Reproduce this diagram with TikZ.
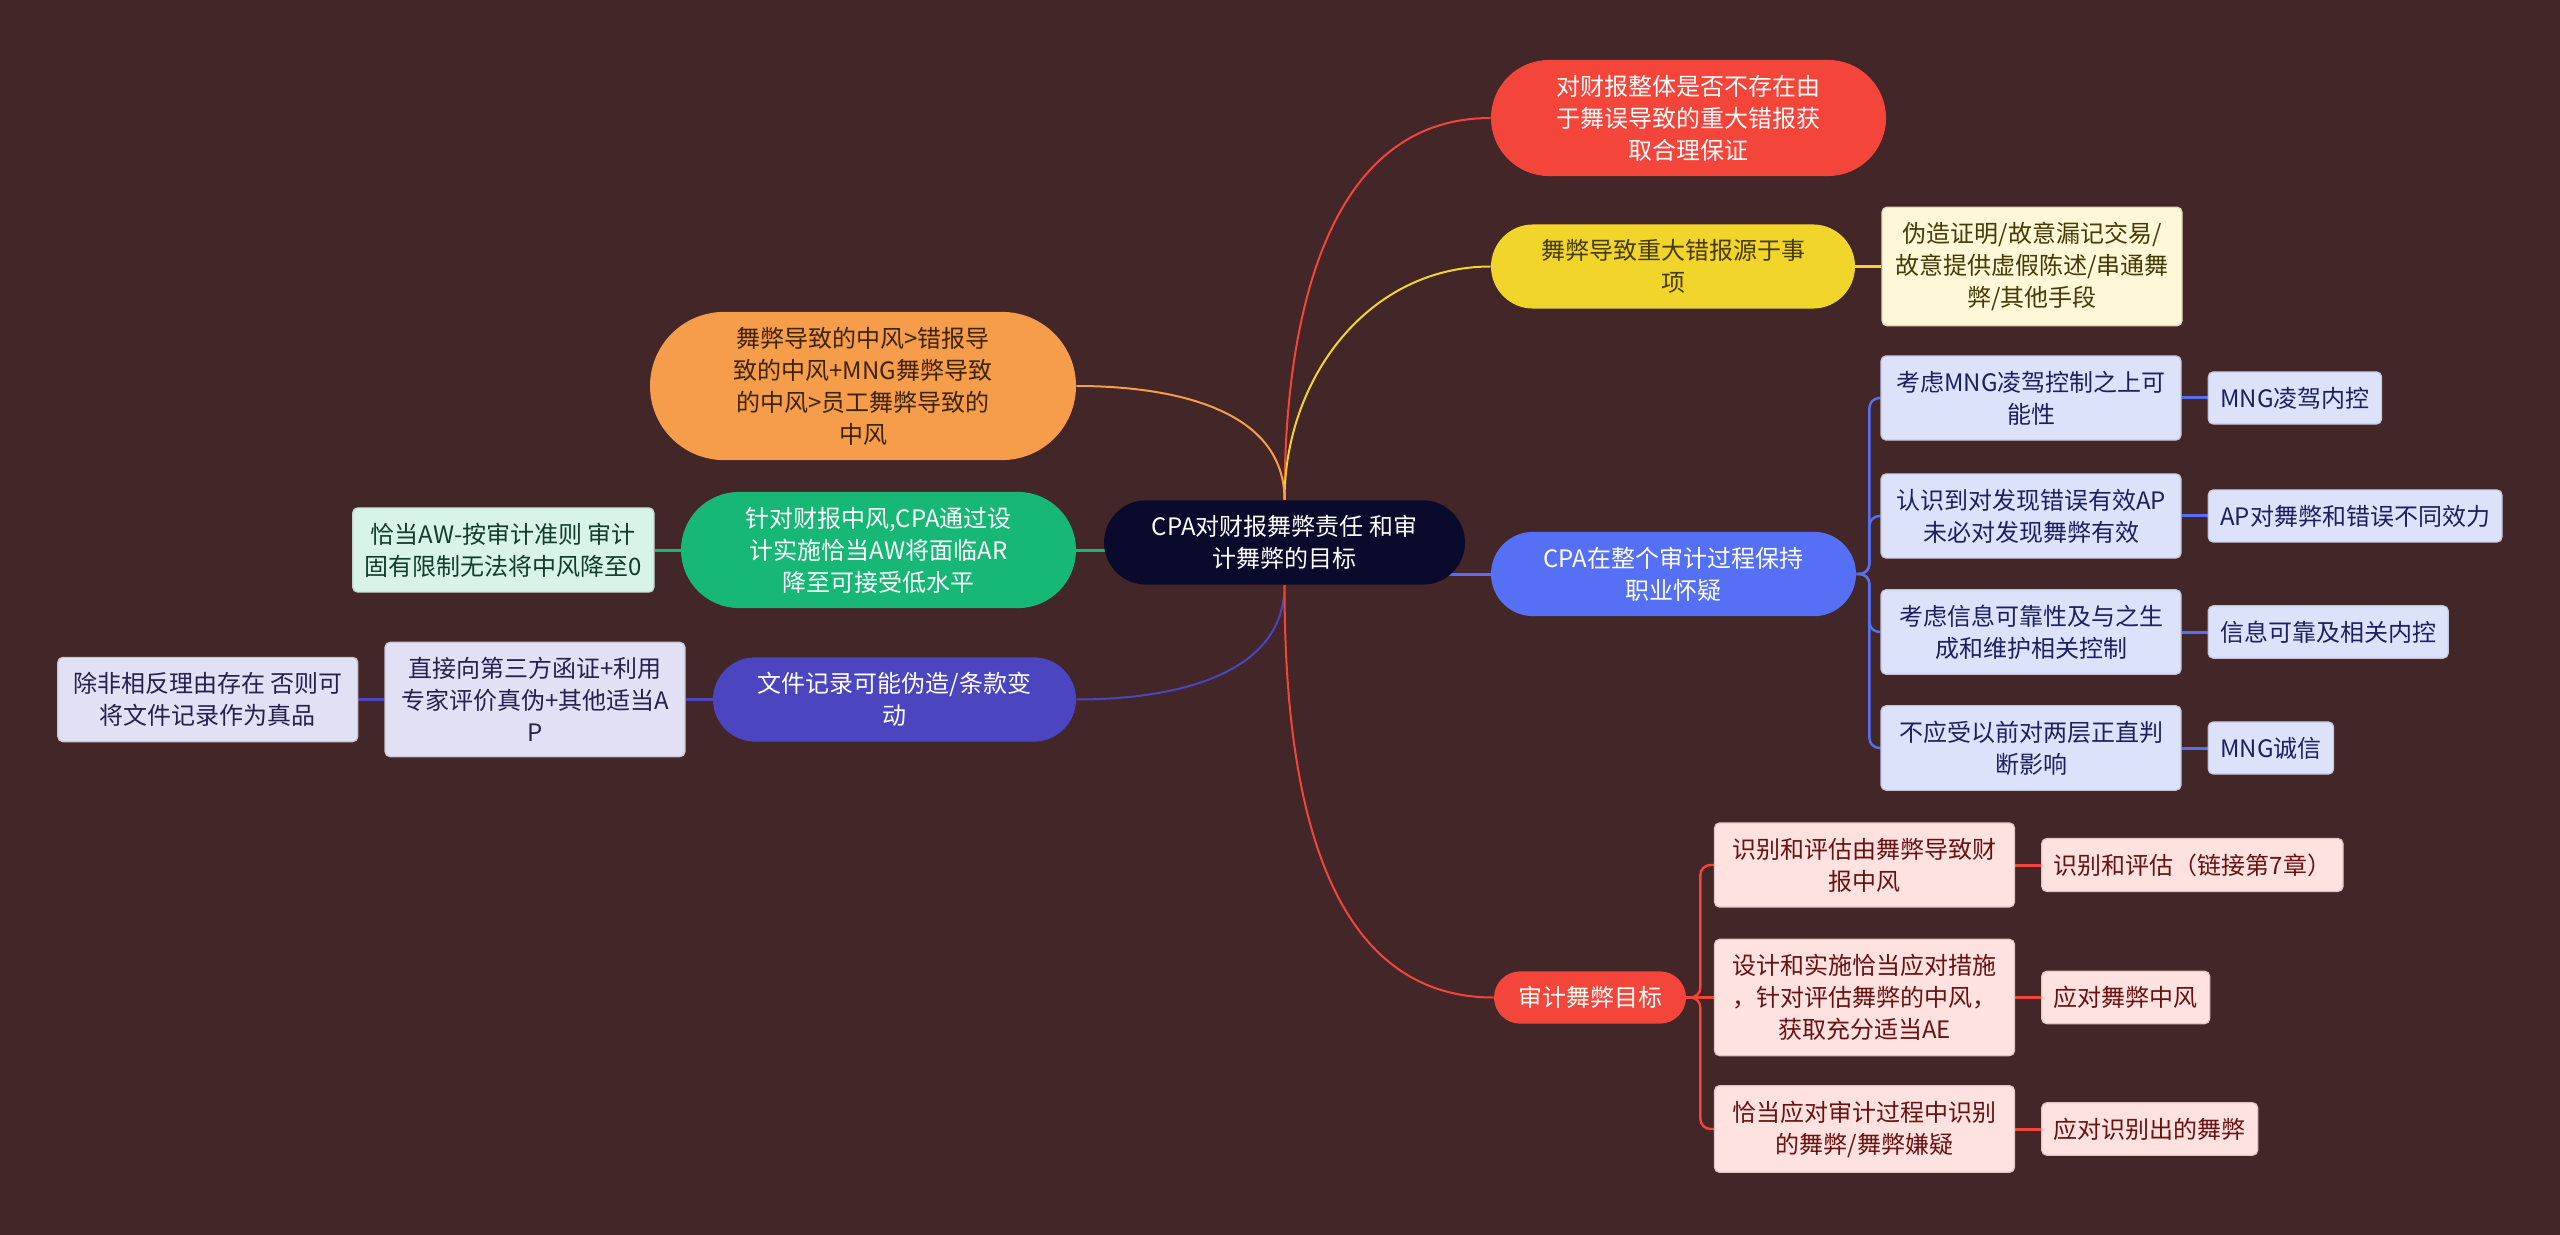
\documentclass[tikz,border=0pt]{standalone}
\usepackage{fontspec}
\setmainfont{Noto Sans CJK SC}
\usetikzlibrary{shapes.misc,positioning}
\pgfdeclarelayer{back}
\pgfdeclarelayer{lines}
\pgfsetlayers{back,lines,main}
\definecolor{bgc}{HTML}{432628}
\definecolor{rootc}{HTML}{0A0A2C}
\definecolor{redc}{HTML}{F4453A}
\definecolor{redleaf}{HTML}{FDE2E0}
\definecolor{redtext}{HTML}{6A1212}
\definecolor{yelc}{HTML}{F2D52B}
\definecolor{yelleaf}{HTML}{FFF8D8}
\definecolor{yeltext}{HTML}{463A05}
\definecolor{bluec}{HTML}{5570F4}
\definecolor{blueleaf}{HTML}{DDE2FB}
\definecolor{bluetext}{HTML}{1B2160}
\definecolor{orac}{HTML}{F59D4A}
\definecolor{oratext}{HTML}{3E2408}
\definecolor{grnc}{HTML}{17B775}
\definecolor{grnleaf}{HTML}{D8F4E6}
\definecolor{grntext}{HTML}{123D2A}
\definecolor{purc}{HTML}{4B45BF}
\definecolor{purleaf}{HTML}{E2E0F4}
\definecolor{purtext}{HTML}{25214F}
\tikzset{
  txt/.style={font=\fontsize{12pt}{16pt}\selectfont, align=center},
  pill/.style={txt, rounded rectangle, inner xsep=0pt, inner ysep=7.5pt},
  leaf/.style={txt, rectangle, rounded corners=2.5pt, inner xsep=6pt, inner ysep=7.5pt, line width=0.6pt},
  wide/.style={minimum width=150pt},
  redleafbox/.style={leaf, fill=redleaf, draw=redleaf!88!black, text=redtext},
  blueleafbox/.style={leaf, fill=blueleaf, draw=blueleaf!88!black, text=bluetext},
  purleafbox/.style={leaf, fill=purleaf, draw=purleaf!88!black, text=purtext},
  curve/.style={line width=1pt},
  link/.style={line width=1.5pt},
  fork/.style={line width=1.2pt, rounded corners=5pt},
}

\begin{document}
\begin{tikzpicture}[x=0.5pt,y=-0.5pt]
\useasboundingbox (0,0) rectangle (2560,1235);
\begin{pgfonlayer}{back}
\fill[bgc] (0,0) rectangle (2560,1235);
\end{pgfonlayer}

\node[pill, fill=rootc, text=white, minimum width=180.5pt] (root) at (1284.5,542.5) {CPA对财报舞弊责任 和审\\计舞弊的目标};

\node[pill, fill=redc, text=white, minimum width=197.5pt] (whole) at (1688.5,118) {对财报整体是否不存在由\\于舞误导致的重大错报获\\取合理保证};
\node[pill, fill=yelc, text=yeltext, minimum width=182pt] (source) at (1673,266.5) {舞弊导致重大错报源于事\\项};
\node[leaf, wide, fill=yelleaf, draw=yelleaf!88!black, text=yeltext, right=13pt of source] (means) {伪造证明/故意漏记交易/\\故意提供虚假陈述/串通舞\\弊/其他手段};

\node[pill, fill=bluec, text=white, minimum width=182.5pt] (doubt) at (1673.5,574) {CPA在整个审计过程保持\\职业怀疑};
\node[blueleafbox, wide] (k1) at (2031,398) {考虑MNG凌驾控制之上可\\能性};
\node[blueleafbox, wide] (k2) at (2031,516) {认识到对发现错误有效AP\\未必对发现舞弊有效};
\node[blueleafbox, wide] (k3) at (2031,632) {考虑信息可靠性及与之生\\成和维护相关控制};
\node[blueleafbox, wide] (k4) at (2031,748) {不应受以前对两层正直判\\断影响};
\node[blueleafbox, right=13pt of k1] (g1) {MNG凌驾内控};
\node[blueleafbox, right=13pt of k2] (g2) {AP对舞弊和错误不同效力};
\node[blueleafbox, right=13pt of k3] (g3) {信息可靠及相关内控};
\node[blueleafbox, right=13pt of k4] (g4) {MNG诚信};

\node[pill, fill=redc, text=white, minimum width=96pt] (goal) at (1590,997.5) {审计舞弊目标};
\node[redleafbox, wide] (t1) at (1864.5,865) {识别和评估由舞弊导致财\\报中风};
\node[redleafbox, wide] (t2) at (1864.5,997.5) {设计和实施恰当应对措施\\，针对评估舞弊的中风，\\获取充分适当AE};
\node[redleafbox, wide] (t3) at (1864.5,1129) {恰当应对审计过程中识别\\的舞弊/舞弊嫌疑};
\node[redleafbox, right=13pt of t1] (h1) {识别和评估（链接第7章）};
\node[redleafbox, right=13pt of t2] (h2) {应对舞弊中风};
\node[redleafbox, right=13pt of t3] (h3) {应对识别出的舞弊};

\node[pill, fill=orac, text=oratext, minimum width=213pt] (ratio) at (863,386) {舞弊导致的中风>错报导\\致的中风+MNG舞弊导致\\的中风>员工舞弊导致的\\中风};
\node[pill, fill=grnc, text=white, minimum width=197.5pt] (respond) at (878.5,550) {针对财报中风,CPA通过设\\计实施恰当AW将面临AR\\降至可接受低水平};
\node[leaf, wide, fill=grnleaf, draw=grnleaf!88!black, text=grntext, left=13pt of respond] (limit) {恰当AW-按审计准则 审计\\固有限制无法将中风降至0};
\node[pill, fill=purc, text=white, minimum width=181.5pt] (forge) at (894.5,699.5) {文件记录可能伪造/条款变\\动};
\node[purleafbox, wide, left=13.5pt of forge] (confirm) {直接向第三方函证+利用\\专家评价真伪+其他适当A\\P};
\node[purleafbox, wide, left=13pt of confirm] (genuine) {除非相反理由存在 否则可\\将文件记录作为真品};

\begin{pgfonlayer}{lines}
\draw[curve, redc] (root.north) to[out=90,in=180] (whole.west);
\draw[curve, yelc] (root.north) to[out=90,in=180] (source.west);
\draw[curve, orac] (root.north) to[out=90,in=0] (ratio.east);
\draw[curve, purc] (root.south) to[out=-90,in=0] (forge.east);
\draw[curve, redc] (root.south) to[out=-90,in=180] (goal.west);
\draw[link, bluec] (root.center |- doubt.west) -- (doubt.west);
\draw[link, grnc] (root.center |- respond.east) -- (respond.east);

\draw[link, yelc] (source.east) -- (means.west);
\draw[link, grnc] (respond.west) -- (limit.east);
\draw[link, purc] (forge.west) -- (confirm.east);
\draw[link, purc] (confirm.west) -- (genuine.east);

\draw[fork, bluec] (doubt.east) -- ++(6.5pt,0) |- (k1.west);
\draw[fork, bluec] (doubt.east) -- ++(6.5pt,0) |- (k2.west);
\draw[fork, bluec] (doubt.east) -- ++(6.5pt,0) |- (k3.west);
\draw[fork, bluec] (doubt.east) -- ++(6.5pt,0) |- (k4.west);
\draw[link, bluec] (k1.east) -- (g1.west);
\draw[link, bluec] (k2.east) -- (g2.west);
\draw[link, bluec] (k3.east) -- (g3.west);
\draw[link, bluec] (k4.east) -- (g4.west);

\draw[fork, redc] (goal.east) -- ++(7pt,0) |- (t1.west);
\draw[fork, redc] (goal.east) -- (t2.west);
\draw[fork, redc] (goal.east) -- ++(7pt,0) |- (t3.west);
\draw[link, redc] (t1.east) -- (h1.west);
\draw[link, redc] (t2.east) -- (h2.west);
\draw[link, redc] (t3.east) -- (h3.west);
\end{pgfonlayer}
\end{tikzpicture}
\end{document}
